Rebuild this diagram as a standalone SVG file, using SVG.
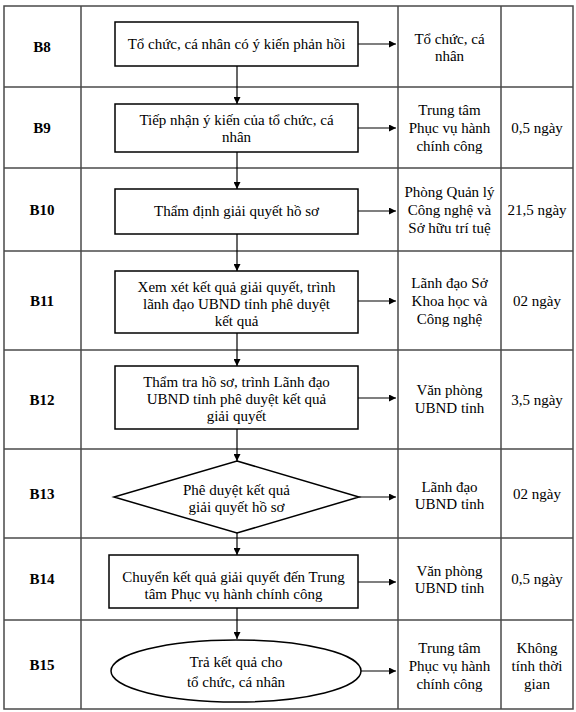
<svg xmlns="http://www.w3.org/2000/svg" width="576" height="712" viewBox="0 0 576 712">
<style>
.grid{stroke:#4a4a4a;stroke-width:1.5;fill:none}
.shape{stroke:#000;stroke-width:1.5;fill:#fff}
.conn{stroke:#000;stroke-width:1.2;fill:none}
text{font-family:"Liberation Serif","Times New Roman",serif;font-size:15px;fill:#000;text-anchor:middle}
.lbl{font-weight:bold}
</style>
<defs>
<marker id="ah" viewBox="0 0 10 10" refX="10" refY="5" markerWidth="7" markerHeight="7" markerUnits="userSpaceOnUse" orient="auto">
<path d="M0,0 L10,5 L0,10 z" fill="#000"/>
</marker>
</defs>
<rect width="576" height="712" fill="#fff"/>
<g id="table">
<rect class="grid" x="4" y="6" width="569" height="703"/>
<line class="grid" x1="81" y1="6" x2="81" y2="709"/>
<line class="grid" x1="398" y1="6" x2="398" y2="709"/>
<line class="grid" x1="501" y1="6" x2="501" y2="709"/>
<line class="grid" x1="4" y1="87" x2="573" y2="87"/>
<line class="grid" x1="4" y1="168" x2="573" y2="168"/>
<line class="grid" x1="4" y1="251" x2="573" y2="251"/>
<line class="grid" x1="4" y1="350" x2="573" y2="350"/>
<line class="grid" x1="4" y1="449" x2="573" y2="449"/>
<line class="grid" x1="4" y1="538" x2="573" y2="538"/>
<line class="grid" x1="4" y1="620" x2="573" y2="620"/>
</g>
<g id="labels">
<text class="lbl" x="42" y="52">B8</text>
<text class="lbl" x="42" y="133">B9</text>
<text class="lbl" x="42" y="215">B10</text>
<text class="lbl" x="42" y="306">B11</text>
<text class="lbl" x="42" y="405">B12</text>
<text class="lbl" x="42" y="499">B13</text>
<text class="lbl" x="42" y="584">B14</text>
<text class="lbl" x="42" y="670">B15</text>
</g>
<g id="connectors">
<line class="conn" x1="237" y1="66" x2="237" y2="104" marker-end="url(#ah)"/>
<line class="conn" x1="237" y1="152" x2="237" y2="189" marker-end="url(#ah)"/>
<line class="conn" x1="237" y1="234" x2="237" y2="271" marker-end="url(#ah)"/>
<line class="conn" x1="237" y1="333" x2="237" y2="366" marker-end="url(#ah)"/>
<line class="conn" x1="237" y1="429" x2="237" y2="461" marker-end="url(#ah)"/>
<line class="conn" x1="237" y1="533" x2="237" y2="555" marker-end="url(#ah)"/>
<line class="conn" x1="237" y1="608" x2="237" y2="639" marker-end="url(#ah)"/>
<line class="conn" x1="358" y1="44" x2="396" y2="44" marker-end="url(#ah)"/>
<line class="conn" x1="358" y1="128" x2="396" y2="128" marker-end="url(#ah)"/>
<line class="conn" x1="358" y1="211" x2="396" y2="211" marker-end="url(#ah)"/>
<line class="conn" x1="358" y1="301" x2="396" y2="301" marker-end="url(#ah)"/>
<line class="conn" x1="358" y1="398" x2="396" y2="398" marker-end="url(#ah)"/>
<line class="conn" x1="359" y1="497" x2="396" y2="497" marker-end="url(#ah)"/>
<line class="conn" x1="358" y1="582" x2="396" y2="582" marker-end="url(#ah)"/>
<line class="conn" x1="361" y1="671" x2="396" y2="671" marker-end="url(#ah)"/>
</g>
<g id="n8">
<rect class="shape" x="115" y="22" width="243" height="44"/>
<text x="236.5" y="49">Tổ chức, cá nhân có ý kiến phản hồi</text>
</g>
<g id="n9">
<rect class="shape" x="115" y="104" width="243" height="48"/>
<text x="236.5" y="125">Tiếp nhận ý kiến của tổ chức, cá</text>
<text x="236.5" y="142">nhân</text>
</g>
<g id="n10">
<rect class="shape" x="115" y="189" width="243" height="45"/>
<text x="236.5" y="216">Thẩm định giải quyết hồ sơ</text>
</g>
<g id="n11">
<rect class="shape" x="115" y="271" width="243" height="62"/>
<text x="236.5" y="292">Xem xét kết quả giải quyết, trình</text>
<text x="236.5" y="309">lãnh đạo UBND tỉnh phê duyệt</text>
<text x="236.5" y="326">kết quả</text>
</g>
<g id="n12">
<rect class="shape" x="115" y="366" width="243" height="63"/>
<text x="236.5" y="387">Thẩm tra hồ sơ, trình Lãnh đạo</text>
<text x="236.5" y="404">UBND tỉnh phê duyệt kết quả</text>
<text x="236.5" y="421">giải quyết</text>
</g>
<g id="n13">
<polygon class="shape" points="237,461 359,497 237,533 114,497"/>
<text x="236.5" y="495">Phê duyệt kết quả</text>
<text x="236.5" y="512">giải quyết hồ sơ</text>
</g>
<g id="n14">
<rect class="shape" x="109" y="555" width="249" height="53"/>
<text x="233.5" y="582">Chuyển kết quả giải quyết đến Trung</text>
<text x="233.5" y="599">tâm Phục vụ hành chính công</text>
</g>
<g id="n15">
<ellipse class="shape" cx="236" cy="671" rx="125" ry="31"/>
<text x="236" y="667">Trả kết quả cho</text>
<text x="236" y="687">tổ chức, cá nhân</text>
</g>
<g id="resp">
<text x="449.5" y="44">Tổ chức, cá</text>
<text x="449.5" y="61">nhân</text>
<text x="449.5" y="115">Trung tâm</text>
<text x="449.5" y="133">Phục vụ hành</text>
<text x="449.5" y="151">chính công</text>
<text x="449.5" y="197">Phòng Quản lý</text>
<text x="449.5" y="215">Công nghệ và</text>
<text x="449.5" y="233">Sở hữu trí tuệ</text>
<text x="449.5" y="288">Lãnh đạo Sở</text>
<text x="449.5" y="306">Khoa học và</text>
<text x="449.5" y="324">Công nghệ</text>
<text x="449.5" y="395">Văn phòng</text>
<text x="449.5" y="413">UBND tỉnh</text>
<text x="449.5" y="492">Lãnh đạo</text>
<text x="449.5" y="509">UBND tỉnh</text>
<text x="449.5" y="576">Văn phòng</text>
<text x="449.5" y="593">UBND tỉnh</text>
<text x="449.5" y="653">Trung tâm</text>
<text x="449.5" y="671">Phục vụ hành</text>
<text x="449.5" y="689">chính công</text>
</g>
<g id="time">
<text x="537" y="133">0,5 ngày</text>
<text x="537" y="215">21,5 ngày</text>
<text x="537" y="306">02 ngày</text>
<text x="537" y="405">3,5 ngày</text>
<text x="537" y="499">02 ngày</text>
<text x="537" y="584">0,5 ngày</text>
<text x="537" y="653">Không</text>
<text x="537" y="671">tính thời</text>
<text x="537" y="689">gian</text>
</g>
</svg>
